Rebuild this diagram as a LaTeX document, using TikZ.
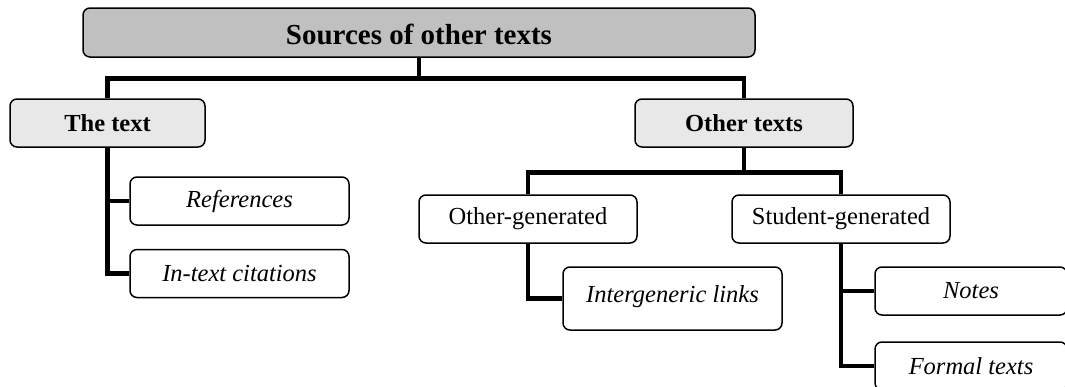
\documentclass[tikz,border=0pt]{standalone}
\usepackage{fontspec}
\setmainfont{Liberation Serif}
\usetikzlibrary{positioning}

\definecolor{rootgray}{HTML}{C0C0C0}
\definecolor{headgray}{HTML}{E8E8E8}

\begin{document}
\begin{tikzpicture}[%
    on grid,
    box/.style={draw, line width=1.5pt, rounded corners=7pt, inner sep=0pt,
        minimum width=218pt, minimum height=48pt,
        font=\fontsize{24.5}{29}\selectfont},
    rootbox/.style={box, fill=rootgray, minimum width=672pt, minimum height=49pt,
        text height=24pt, font=\fontsize{29}{34}\selectfont\bfseries},
    headbox/.style={box, fill=headgray, font=\fontsize{24.5}{29}\selectfont\bfseries},
    leaf/.style={box, fill=white},
    itleaf/.style={box, fill=white, font=\fontsize{24.5}{29}\selectfont\itshape},
    link/.style={line width=4.8pt}
    ]
    \useasboundingbox (0,0) rectangle (1065pt,-386pt);
    \clip (0,0) rectangle (1065pt,-386pt);

    % nodes
    \node[rootbox] (root) at (419pt,-32.5pt) {Sources of other texts};
    \node[headbox, minimum width=195pt] (thetext) [below left=90.5pt and 311.5pt of root] {The text};
    \node[headbox] (other) [below right=90.5pt and 325pt of root] {Other texts};

    \node[itleaf, minimum width=219pt] (refs) [below right=78pt and 132pt of thetext] {References};
    \node[itleaf, minimum width=219pt] (intext) [below=72.5pt of refs] {In-text citations};

    \node[leaf] (othergen) [below left=96pt and 216pt of other] {Other-generated};
    \node[leaf] (studgen) [below right=96pt and 97pt of other] {Student-generated};

    \node[itleaf, minimum width=219pt, minimum height=63pt, text depth=9pt] (intergen) [below right=79.5pt and 144.5pt of othergen] {Intergeneric links};
    \node[itleaf, minimum width=192pt] (notes) [below right=72pt and 130pt of studgen] {Notes};
    \node[itleaf, minimum width=192pt] (formal) [below=75pt of notes] {Formal texts};

    % connectors
    \draw[link] (root.south) -- ++(0,-21pt) coordinate (rootbar) -| (thetext.north);
    \draw[link] (rootbar) -| (other.north);
    \draw[link] (other.south) -- ++(0,-25pt) coordinate (otherbar) -| (othergen.north);
    \draw[link] (otherbar) -| (studgen.north);

    \draw[link] (thetext.south) |- (refs.west);
    \draw[link] (thetext.south) |- (intext.west);
    \draw[link] (othergen.south) |- (intergen.west);
    \draw[link] (studgen.south) |- (notes.west);
    \draw[link] (studgen.south) |- (formal.west);
\end{tikzpicture}
\end{document}
